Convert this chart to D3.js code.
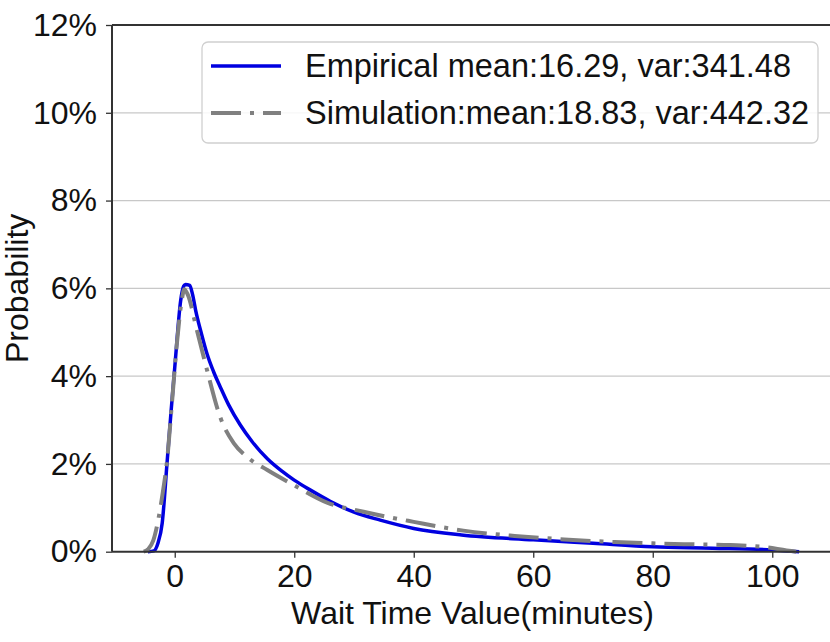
<!DOCTYPE html>
<html>
<head>
<meta charset="utf-8">
<script src="https://cdn.jsdelivr.net/npm/d3@7"></script>
<style>
  html, body { margin: 0; padding: 0; background: #fff; }
  svg { display: block; }
  text { font-family: "Liberation Sans", Arial, sans-serif; fill: #111; }
</style>
</head>
<body>
<svg id="chart" width="830" height="642"></svg>
<script>
// ---- data ----
const empiricalX = [-4.5, -3.5, -2.8, -2.1, -1.3, -0.6, 0.1, 1.0, 1.5, 1.8, 2.5, 3.0, 3.5, 4.5, 5.4, 6.5, 7.6, 9, 11, 13, 15.5, 18, 20, 23, 26, 30, 34.4, 40, 48, 60, 70, 80, 90, 100, 104.5];
const empiricalY = [0, 0.02, 0.2, 0.65, 2.0, 3.22, 4.36, 5.73, 6.05, 6.09, 6.07, 5.85, 5.5, 4.95, 4.51, 4.1, 3.76, 3.35, 2.88, 2.5, 2.12, 1.83, 1.63, 1.38, 1.15, 0.9, 0.72, 0.53, 0.38, 0.27, 0.19, 0.11, 0.08, 0.04, 0];
const simulationX = [-5.2, -4.5, -3.6, -2.8, -2.0, -1.27, -0.43, 0.4, 1.2, 1.6, 2.2, 3.7, 5.4, 7.6, 9.9, 12.1, 15.5, 19.9, 25.5, 31.6, 40, 48.3, 56.9, 65.2, 73.6, 80, 86, 93, 98.4, 102.4, 104];
const simulationY = [0, 0.05, 0.25, 0.7, 1.35, 2.09, 3.45, 4.8, 5.75, 5.98, 5.85, 5.05, 4.14, 3.07, 2.47, 2.16, 1.86, 1.52, 1.12, 0.91, 0.68, 0.48, 0.36, 0.28, 0.22, 0.19, 0.17, 0.15, 0.11, 0.03, 0];
const xTicks = [0, 20, 40, 60, 80, 100];
const yTicks = [0, 0.02, 0.04, 0.06, 0.08, 0.10, 0.12];
const legendLabels = ["Empirical mean:16.29, var:341.48", "Simulation:mean:18.83, var:442.32"];
const xLabel = "Wait Time Value(minutes)";
const yLabel = "Probability";

// ---- layout ----
const plot = { left: 112, top: 25, right: 835, bottom: 551.7 };
const svg = d3.select("#chart");

const x = d3.scaleLinear().domain([-10.5, 110.5]).range([plot.left, plot.right]);
const y = d3.scaleLinear().domain([0, 0.12]).range([plot.bottom, plot.top]);

// grid
svg.append("g").selectAll("line").data(yTicks.slice(1, -1)).join("line")
  .attr("x1", plot.left).attr("x2", plot.right)
  .attr("y1", d => y(d)).attr("y2", d => y(d))
  .attr("stroke", "#c8c8c8").attr("stroke-width", 1.2);

// curves
const line = d3.line().x(d => x(d[0])).y(d => y(d[1] / 100)).curve(d3.curveMonotoneX);
const empirical = empiricalX.map((v, i) => [v, empiricalY[i]]);
const simulation = simulationX.map((v, i) => [v, simulationY[i]]);

svg.append("path").datum(empirical).attr("d", line)
  .attr("fill", "none").attr("stroke", "#0000e0").attr("stroke-width", 3.5)
  .attr("stroke-linejoin", "round");
svg.append("path").datum(simulation).attr("d", line)
  .attr("fill", "none").attr("stroke", "#808080").attr("stroke-width", 4)
  .attr("stroke-dasharray", "30 9 4 9");

// axes
const xAxis = svg.append("g").attr("transform", `translate(0,${plot.bottom})`)
  .call(d3.axisBottom(x).tickValues(xTicks).tickSize(6).tickPadding(6).tickFormat(d3.format("d")));
const yAxis = svg.append("g").attr("transform", `translate(${plot.left},0)`)
  .call(d3.axisLeft(y).tickValues(yTicks).tickSize(6).tickPadding(9).tickFormat(d3.format(".0%")));
[xAxis, yAxis].forEach(g => {
  g.select(".domain").remove();
  g.selectAll(".tick line").attr("stroke", "#333").attr("stroke-width", 1.3);
  g.selectAll(".tick text").attr("font-size", 32).attr("fill", "#111")
    .attr("font-family", '"Liberation Sans", Arial, sans-serif');
});
xAxis.selectAll(".tick text").attr("dy", "0.72em");

// spines
const spine = svg.append("g").attr("stroke", "#333").attr("stroke-width", 2).attr("fill", "none");
spine.append("line").attr("x1", plot.left).attr("x2", plot.left).attr("y1", plot.top).attr("y2", plot.bottom);
spine.append("line").attr("x1", plot.left).attr("x2", plot.right).attr("y1", plot.bottom).attr("y2", plot.bottom);
spine.append("line").attr("x1", plot.left).attr("x2", plot.right).attr("y1", plot.top).attr("y2", plot.top);
spine.append("line").attr("x1", plot.right).attr("x2", plot.right).attr("y1", plot.top).attr("y2", plot.bottom);

// axis labels
svg.append("text").attr("x", (plot.left + plot.right) / 2 - 1).attr("y", 624)
  .attr("text-anchor", "middle").attr("font-size", 32).text(xLabel);
svg.append("text").attr("transform", `translate(28,${(plot.top + plot.bottom) / 2}) rotate(-90)`)
  .attr("text-anchor", "middle").attr("font-size", 32).text(yLabel);

// legend
const lg = svg.append("g");
lg.append("rect").attr("x", 202).attr("y", 42).attr("width", 616).attr("height", 101)
  .attr("rx", 6).attr("fill", "#fff").attr("fill-opacity", 0.85)
  .attr("stroke", "#d0d0d0").attr("stroke-width", 1.3);
const legendStyles = [
  { color: "#0000e0", width: 3.5, dash: null },
  { color: "#808080", width: 4, dash: "30 9 4 9" }
];
const rowY = [66, 113];
legendLabels.forEach((lab, i) => {
  const s = legendStyles[i];
  const l = lg.append("line").attr("x1", 211).attr("x2", 281).attr("y1", rowY[i]).attr("y2", rowY[i])
    .attr("stroke", s.color).attr("stroke-width", s.width);
  if (s.dash) l.attr("stroke-dasharray", s.dash);
  lg.append("text").attr("x", 305).attr("y", rowY[i] + 11).attr("font-size", 32.5).text(lab);
});
</script>
</body>
</html>
